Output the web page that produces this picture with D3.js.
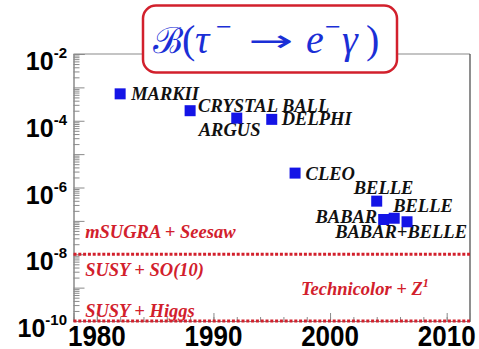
<!DOCTYPE html>
<html><head><meta charset="utf-8">
<script src="https://cdn.jsdelivr.net/npm/d3@7"></script>
<style>
html,body{margin:0;padding:0;background:#fff;}
svg{display:block;}
.serif{font-family:'Liberation Serif','Times New Roman',serif;}
.sans{font-family:'Liberation Sans',Arial,sans-serif;}
</style></head>
<body>
<svg id="chart" width="479" height="349"></svg>
<script>
// ---- data ----
const experiments = ["MARKII","CRYSTAL BALL","ARGUS","DELPHI","CLEO","BELLE","BABAR","BELLE","BABAR+BELLE"];
const years = [1982, 1988, 1992, 1995, 1997, 2004, 2004.6, 2005.5, 2006.6];
const limits = [6.4e-4, 2.0e-4, 1.2e-4, 1.1e-4, 2.7e-6, 3.9e-7, 1.1e-7, 1.2e-7, 9.4e-8];
const yTickExponents = [-2, -4, -6, -8, -10];
const xTickLabels = [1980, 1990, 2000, 2010];
const modelNames = ["mSUGRA + Seesaw", "SUSY + SO(10)", "SUSY + Higgs", "Technicolor + Z"];
const modelLevels = [1e-8, 1e-10];

// ---- layout (not data) ----
const labelOffsets = [[11,6,"start"],[8,1,"start"],[-38,17.5,"start"],[10,6,"start"],[10.5,6.5,"start"],
                      [-23,-7,"start"],[-6.5,3.5,"end"],[-1,-6,"start"],[60,16,"end"]];
const modelPos = [[1979, 3e-8], [1979, 2.2e-9], [1979, 1.3e-10], [1997.5, 6e-10]];

const svg = d3.select("#chart");
const L = 73.5, R = 470, T = 54, B = 321;
const x = d3.scaleLinear().domain([1978, 2012]).range([L, R]);
const y = d3.scaleLog().domain([1e-10, 1e-2]).range([B, T]);

const axisCol = "#8a8a8a";
// frame
svg.append("line").attr("x1",L).attr("x2",R).attr("y1",T).attr("y2",T).attr("stroke",axisCol).attr("stroke-width",1.2);
svg.append("line").attr("x1",R).attr("x2",R).attr("y1",T).attr("y2",B).attr("stroke","#444").attr("stroke-width",1.2);

// y axis: major + minor ticks pointing inside
const majors = d3.range(-10, -1).map(e => Math.pow(10, e));
const minors = [];
for (let e = -10; e < -2; e++) for (let k = 2; k <= 9; k++) minors.push(k * Math.pow(10, e));
const yMinor = d3.axisRight(y).tickValues(minors).tickSize(6).tickFormat("");
const yMajor = d3.axisRight(y).tickValues(majors.concat([1e-2])).tickSize(11).tickFormat("");
[yMinor, yMajor].forEach(ax => {
  const g = svg.append("g").attr("transform", `translate(${L},0)`).call(ax);
  g.selectAll("path,line").attr("stroke", axisCol).attr("stroke-width", 1);
});

// y tick labels
yTickExponents.forEach(e => {
  const t = svg.append("text").attr("class","sans").attr("x", 67).attr("y", y(Math.pow(10, e)) + 16)
    .attr("text-anchor","end").attr("font-weight","bold").attr("font-size",25).attr("fill","#000");
  t.append("tspan").text("10");
  t.append("tspan").attr("font-size",15).attr("dy",-12).text(String(e));
});

// x axis ticks pointing up
const xMinor = d3.axisTop(x).tickValues(d3.range(1980, 2012, 2)).tickSize(4).tickFormat("");
const xMajor = d3.axisTop(x).tickValues(xTickLabels).tickSize(8).tickFormat("");
[xMinor, xMajor].forEach(ax => {
  const g = svg.append("g").attr("transform", `translate(0,${B})`).call(ax);
  g.selectAll("path,line").attr("stroke", axisCol).attr("stroke-width", 1);
});
// x tick labels (slightly tall glyphs as in the reference)
svg.selectAll("text.xl").data(xTickLabels).join("text").attr("class","xl sans")
  .attr("transform", d => `translate(${x(d)},346) scale(1,1.17)`)
  .attr("text-anchor","middle").attr("font-weight","bold").attr("font-size",26).attr("fill","#000")
  .text(d3.format("d"));

// model dotted lines
const red = "#d2202c";
svg.selectAll("line.model").data(modelLevels).join("line").attr("class","model")
  .attr("x1", L).attr("x2", R).attr("y1", d => y(d)).attr("y2", d => y(d))
  .attr("stroke", red).attr("stroke-width", 3).attr("stroke-dasharray","3,1.8");

// model names
modelNames.forEach((n, i) => {
  const t = svg.append("text").attr("class","serif").attr("x", x(modelPos[i][0])).attr("y", y(modelPos[i][1]))
    .attr("font-style","italic").attr("font-weight","bold")
    .attr("font-size", 18.5).attr("fill", red);
  t.append("tspan").text(n);
  if (i === 3) t.append("tspan").attr("font-size", 12).attr("dy", -8).text("1");
});

// experiment labels
svg.selectAll("text.exp").data(experiments).join("text").attr("class","exp serif")
  .attr("x", (d,i) => x(years[i]) + labelOffsets[i][0])
  .attr("y", (d,i) => y(limits[i]) + labelOffsets[i][1])
  .attr("text-anchor", (d,i) => labelOffsets[i][2])
  .attr("font-style","italic").attr("font-weight","bold")
  .attr("font-size", 18.5).attr("fill","#111").text(d => d);

// points
const sz = 11;
svg.selectAll("rect.pt").data(years).join("rect").attr("class","pt")
  .attr("x", (d,i) => x(d) - sz/2).attr("y", (d,i) => y(limits[i]) - sz/2)
  .attr("width", sz).attr("height", sz).attr("fill", "#1414e6");

// title box
svg.append("rect").attr("x",143).attr("y",5.5).attr("width",254).attr("height",67).attr("rx",13)
  .attr("fill","#fff").attr("stroke", red).attr("stroke-width",2.5);
const blue = "#1b2fd6";
const tt = svg.append("text").attr("class","serif").attr("y", 53).attr("fill", blue).attr("font-size", 40);
tt.append("tspan").attr("x",153).style("font-family","'DejaVu Serif',serif").attr("font-size",36).text("ℬ");
tt.append("tspan").attr("x",182).text("(");
tt.append("tspan").attr("x",195).attr("font-style","italic").text("τ");
tt.append("tspan").attr("x",216).attr("dy",-17).attr("font-size",28).text("−");
tt.append("tspan").attr("x",306).attr("dy",17).attr("font-style","italic").text("e");
tt.append("tspan").attr("x",325).attr("dy",-17).attr("font-size",28).text("−");
tt.append("tspan").attr("x",342).attr("dy",17).attr("font-style","italic").text("γ");
tt.append("tspan").attr("x",366).text(")");
svg.append("text").attr("x",248).attr("y",51).attr("fill",blue)
  .style("font-family","'DejaVu Sans',sans-serif").attr("font-size",30)
  .attr("textLength",45).attr("lengthAdjust","spacingAndGlyphs").text("→");
</script>
</body></html>
